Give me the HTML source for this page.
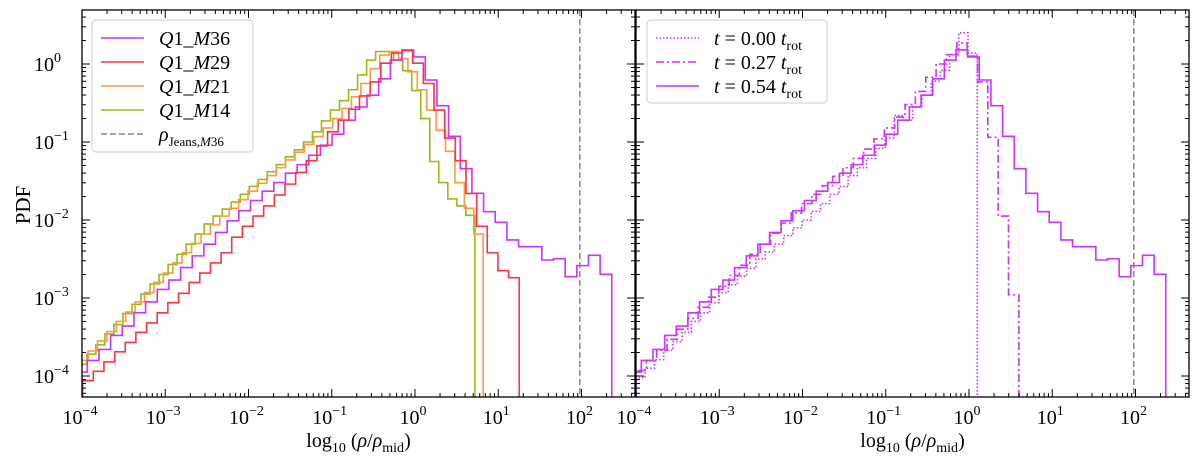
<!DOCTYPE html>
<html><head><meta charset="utf-8">
<style>
html,body{margin:0;padding:0;background:#fff;}
svg{display:block;font-family:"Liberation Serif",serif;}
</style></head>
<body>
<svg id="fig" width="1200" height="461" viewBox="0 0 1200 461" xmlns="http://www.w3.org/2000/svg">
<defs>
<clipPath id="clipL"><rect x="82" y="10" width="553" height="387"/></clipPath>
<clipPath id="clipR"><rect x="636" y="10" width="553" height="387"/></clipPath>
</defs>
<g id="gL"></g>
<g id="gR"></g>
</svg>
<script>
// ---- data (log10 of PDF per bin) ----
const xTickExps = [-4,-3,-2,-1,0,1,2];
const yTickExps = [0,-1,-2,-3,-4];
const jeansLog = 1.98;

const m36Start = -4.076, m36Step = 0.14;
const m36Vals = [-3.95,-3.80,-3.66,-3.48,-3.36,-3.19,-3.05,-2.89,-2.77,-2.61,-2.46,-2.31,-2.16,-2.01,-1.88,-1.75,-1.63,-1.52,-1.40,-1.29,-1.17,-1.04,-0.90,-0.72,-0.55,-0.40,-0.19,0.05,0.18,0.09,-0.205,-0.534,-0.927,-1.342,-1.658,-1.893,-2.030,-2.256,-2.342,-2.342,-2.513,-2.496,-2.727,-2.585,-2.453,-2.696];

const m29Start = -3.992, m29Step = 0.1279;
const m29Vals = [-4.06,-3.94,-3.82,-3.69,-3.57,-3.44,-3.32,-3.19,-3.06,-2.94,-2.80,-2.68,-2.55,-2.42,-2.22,-2.08,-1.95,-1.82,-1.68,-1.54,-1.39,-1.24,-1.05,-0.87,-0.72,-0.58,-0.41,-0.23,0.01,0.14,0.17,0.01,-0.25,-0.59,-0.95,-1.24,-1.66,-2.08,-2.42,-2.65,-2.74];

const m21Start = -4.04, m21Step = 0.113;
const m21Vals = [-3.80,-3.68,-3.55,-3.43,-3.30,-3.18,-3.05,-2.93,-2.80,-2.68,-2.55,-2.42,-2.30,-2.18,-2.06,-1.95,-1.85,-1.74,-1.63,-1.53,-1.43,-1.33,-1.23,-1.13,-1.03,-0.93,-0.82,-0.70,-0.57,-0.42,-0.25,-0.06,0.115,0.16,0.07,-0.10,-0.33,-0.59,-0.85,-1.12,-1.52,-1.85,-2.18];

const m14Start = -4.05, m14Step = 0.1084;
const m14Vals = [-3.85,-3.72,-3.60,-3.46,-3.34,-3.20,-3.08,-2.95,-2.82,-2.70,-2.57,-2.44,-2.31,-2.18,-2.05,-1.95,-1.86,-1.77,-1.67,-1.57,-1.48,-1.38,-1.29,-1.19,-1.10,-1.00,-0.87,-0.73,-0.59,-0.47,-0.33,-0.14,0.05,0.16,0.16,0.05,-0.086,-0.34,-0.70,-1.25,-1.52,-1.73,-1.82,-1.94];

const t00Start = -4.0, t00Step = 0.1108;
const t00Vals = [-4.02,-3.90,-3.79,-3.67,-3.56,-3.44,-3.30,-3.19,-3.06,-2.93,-2.83,-2.72,-2.62,-2.50,-2.41,-2.31,-2.20,-2.10,-2.00,-1.89,-1.79,-1.67,-1.57,-1.43,-1.33,-1.21,-1.08,-0.95,-0.66,-0.72,-0.55,-0.40,-0.22,-0.08,0.12,0.40,0.14];

const t27Start = -4.0, t27Step = 0.1243;
const t27Vals = [-3.93,-3.80,-3.67,-3.53,-3.40,-3.26,-3.12,-2.99,-2.85,-2.71,-2.58,-2.44,-2.31,-2.17,-2.04,-1.91,-1.79,-1.67,-1.56,-1.44,-1.33,-1.21,-1.09,-0.96,-0.82,-0.68,-0.52,-0.35,-0.17,0.0,0.12,0.27,0.10,-0.23,-0.94,-1.95,-2.96];

// ---- layout ----
const NS = "http://www.w3.org/2000/svg";
const PW = 553, TOP = 10, BOT = 397;
const XMIN = -4, XMAX = 2.643;
const YMAX = (64-10)/78, YMIN = -4 - (397-376)/78;
function mk(tag, attrs, parent){const e=document.createElementNS(NS,tag);for(const k in attrs)e.setAttribute(k,attrs[k]);parent.appendChild(e);return e;}
function xs(x0){return lx => x0 + (lx - XMIN)/(XMAX - XMIN)*PW;}
function ys(ly){return TOP + (YMAX - ly)/(YMAX - YMIN)*(BOT-TOP);}

function stepPath(X, start, step, vals){
  let d = "";
  const yb = BOT + 20;
  d += "M" + X(start).toFixed(2) + "," + yb;
  for(let i=0;i<vals.length;i++){
    const a = X(start+i*step), b = X(start+(i+1)*step), y = ys(vals[i]);
    d += " L" + a.toFixed(2) + "," + y.toFixed(2) + " L" + b.toFixed(2) + "," + y.toFixed(2);
  }
  d += " L" + X(start+vals.length*step).toFixed(2) + "," + yb;
  return d;
}

function axes(g, x0, showYLabels){
  const X = xs(x0);
  const ax = mk("g", {}, g);
  
  
  for(let e=-5;e<=3;e++){
    for(let m=1;m<10;m++){
      const lx = e + Math.log10(m);
      if(lx < XMIN-1e-9 || lx > XMAX) continue;
      const x = X(lx), L = m===1?8:4;
      mk("line",{x1:x,y1:BOT,x2:x,y2:BOT-L,stroke:"#000","stroke-width":1},ax);
      mk("line",{x1:x,y1:TOP,x2:x,y2:TOP+L,stroke:"#000","stroke-width":1},ax);
    }
  }
  xTickExps.forEach(e=>{
    const t = mk("text",{x:X(e)-2,y:424,"font-size":20,"text-anchor":"middle"},ax);
    
    
    t.textContent = "10";
    const s = mk("tspan",{dy:-9,"font-size":14},t); s.textContent = (e<0?"\u2212"+(-e):""+e);
  });
  for(let e=-5;e<=1;e++){
    for(let m=1;m<10;m++){
      const ly = e + Math.log10(m);
      if(ly < YMIN || ly > YMAX) continue;
      const y = ys(ly), L = m===1?8:4;
      mk("line",{x1:x0,y1:y,x2:x0+L,y2:y,stroke:"#000","stroke-width":1},ax);
      mk("line",{x1:x0+PW,y1:y,x2:x0+PW-L,y2:y,stroke:"#000","stroke-width":1},ax);
    }
  }
  if(showYLabels){
    yTickExps.forEach(e=>{
      const t = mk("text",{x:x0-48,y:ys(e)+7,"font-size":20,"text-anchor":"start"},ax);
      
      
      t.textContent = "10";
      const s = mk("tspan",{dy:-9,"font-size":14},t); s.textContent = (e<0?"\u2212"+(-e):""+e);
    });
  }
  mk("rect",{x:x0,y:TOP,width:PW,height:BOT-TOP,fill:"none",stroke:"#000","stroke-width":1.3},ax);
  const xl = mk("text",{x:x0+PW/2,y:447,"font-size":20,"text-anchor":"middle"},ax);
  
  
  xl.innerHTML = 'log<tspan font-size="14" dy="5">10</tspan><tspan dy="-5"> (</tspan><tspan font-style="italic">ρ</tspan>/<tspan font-style="italic">ρ</tspan><tspan font-size="14" dy="5">mid</tspan><tspan dy="-5">)</tspan>';
  return X;
}

function series(g, X, clip, start, step, vals, color, dash, name){
  const p = mk("path",{d:stepPath(X,start,step,vals),fill:"none",stroke:color,"stroke-width":1.6,"clip-path":clip,"stroke-linejoin":"miter"},g);
  if(dash) p.setAttribute("stroke-dasharray",dash);
  
  
}

function jeans(g, X, clip){
  const x = X(jeansLog);
  const l = mk("line",{x1:x,y1:TOP,x2:x,y2:BOT,stroke:"#888","stroke-width":1.5,"stroke-dasharray":"6,3","clip-path":clip},g);
  
  
}

const gL = document.getElementById("gL"), gR = document.getElementById("gR");
const MAG="#cc33ff", RED="#ff3344", ORA="#ff9944", GRN="#99bb11";

const XL = xs(82);
jeans(gL, XL, "url(#clipL)");
series(gL, XL, "url(#clipL)", m14Start, m14Step, m14Vals, GRN, null, "series-m14");
series(gL, XL, "url(#clipL)", m21Start, m21Step, m21Vals, ORA, null, "series-m21");
series(gL, XL, "url(#clipL)", m36Start, m36Step, m36Vals, MAG, null, "series-m36");
series(gL, XL, "url(#clipL)", m29Start, m29Step, m29Vals, RED, null, "series-m29");
axes(gL, 82, true);
const yl = mk("text",{x:30,y:205,"font-size":21,"text-anchor":"middle",transform:"rotate(-90 30 205)"},gL);


yl.textContent = "PDF";

const XR = xs(636);
jeans(gR, XR, "url(#clipR)");
series(gR, XR, "url(#clipR)", t00Start, t00Step, t00Vals, MAG, "1.5,2", "series-t000");
series(gR, XR, "url(#clipR)", t27Start, t27Step, t27Vals, MAG, "8,3,2,3", "series-t027");
series(gR, XR, "url(#clipR)", m36Start, m36Step, m36Vals, MAG, null, "series-t054");
axes(gR, 636, false);

function legend(g, x, y, w, h, entries, name){
  const lg = mk("g",{},g);
  
  
  mk("rect",{x:x,y:y,width:w,height:h,rx:4,fill:"#fff","fill-opacity":0.85,stroke:"#ccc","stroke-width":1},lg);
  entries.forEach((en,i)=>{
    const yy = y+18+i*24;
    const ln = mk("line",{x1:x+9,y1:yy,x2:x+52,y2:yy,stroke:en.c,"stroke-width":1.6},lg);
    if(en.d) ln.setAttribute("stroke-dasharray",en.d);
    const t = mk("text",{x:x+67,y:yy+7,"font-size":20},lg);
    
    
    t.innerHTML = en.t;
  });
}
legend(gL, 92, 20, 161, 132, [
  {c:MAG,t:'<tspan font-style="italic">Q</tspan>1_<tspan font-style="italic">M</tspan>36'},
  {c:RED,t:'<tspan font-style="italic">Q</tspan>1_<tspan font-style="italic">M</tspan>29'},
  {c:ORA,t:'<tspan font-style="italic">Q</tspan>1_<tspan font-style="italic">M</tspan>21'},
  {c:GRN,t:'<tspan font-style="italic">Q</tspan>1_<tspan font-style="italic">M</tspan>14'},
  {c:"#888",d:"6,3",t:'<tspan font-style="italic">ρ</tspan><tspan font-size="13" dy="5">Jeans,<tspan font-style="italic">M</tspan>36</tspan>'}
], "legend-left");
legend(gR, 647, 20, 180, 83, [
  {c:MAG,d:"1.5,2",t:'<tspan font-style="italic">t</tspan> = 0.00 <tspan font-style="italic">t</tspan><tspan font-size="14" dy="5">rot</tspan>'},
  {c:MAG,d:"8,3,2,3",t:'<tspan font-style="italic">t</tspan> = 0.27 <tspan font-style="italic">t</tspan><tspan font-size="14" dy="5">rot</tspan>'},
  {c:MAG,t:'<tspan font-style="italic">t</tspan> = 0.54 <tspan font-style="italic">t</tspan><tspan font-size="14" dy="5">rot</tspan>'}
], "legend-right");
</script>
</body></html>
